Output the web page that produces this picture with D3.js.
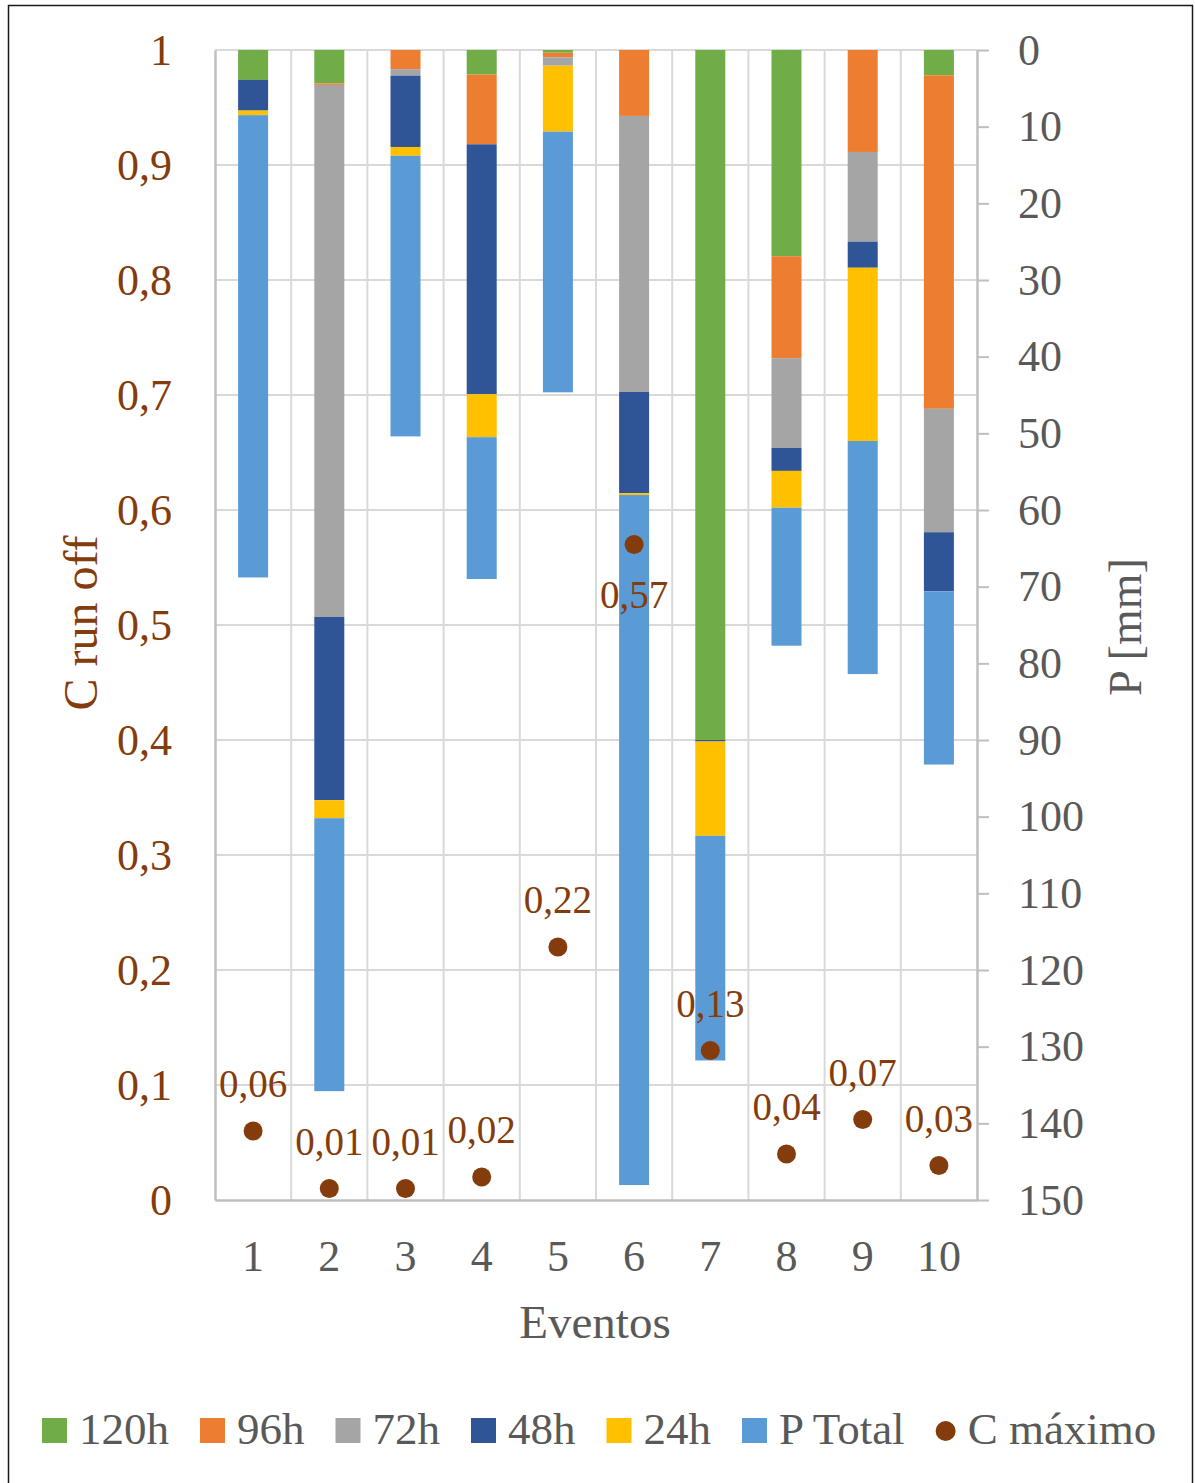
<!DOCTYPE html>
<html>
<head>
<meta charset="utf-8">
<script src="https://cdn.jsdelivr.net/npm/d3@7"></script>
<style>
    body { margin: 0; background: #fff; }
    svg text { font-family: "Liberation Serif", "DejaVu Serif", serif; }
</style>
</head>
<body>
<svg id="chart" width="1195" height="1483"></svg>
<script>
// events and precipitation (mm) per accumulation window
var events = ['1', '2', '3', '4', '5', '6', '7', '8', '9', '10'];
var p120 = [3.9, 4.35, 0, 3.2, 0.35, 0, 90.0, 26.9, 0, 3.3];
var p96 = [0, 0.2, 2.5, 9.1, 0.6, 8.6, 0, 13.3, 13.3, 43.5];
var p72 = [0, 69.4, 0.85, 0, 1.1, 36.0, 0, 11.7, 11.7, 16.1];
var p48 = [4.0, 23.9, 9.3, 32.6, 0, 13.2, 0.2, 3.0, 3.4, 7.7];
var p24 = [0.6, 2.35, 1.15, 5.6, 8.6, 0.25, 12.3, 4.8, 22.6, 0];
var pTotal = [60.3, 35.6, 36.6, 18.5, 34.0, 90.0, 29.3, 18.0, 30.4, 22.6];
var cMax = [0.06, 0.01, 0.01, 0.02, 0.22, 0.57, 0.13, 0.04, 0.07, 0.03];

var seriesNames = ['120h', '96h', '72h', '48h', '24h', 'P Total'];
var seriesValues = [p120, p96, p72, p48, p24, pTotal];
var colors = ['#70AD47', '#ED7D31', '#A5A5A5', '#2F5597', '#FFC000', '#5B9BD5'];
var dotColor = '#843C0C';
var textGray = '#595959';
var gridColor = '#D9D9D9';
var axisColor = '#BFBFBF';

var svg = d3.select('#chart');

// plot area (window.top is read-only, so no bare "top")
var plotLeft = 215, plotRight = 977, plotTop = 50, plotBottom = 1200;

var x = d3.scaleBand().domain(events).range([plotLeft, plotRight]);
var yC = d3.scaleLinear().domain([0, 1]).range([plotBottom, plotTop]);
var yP = d3.scaleLinear().domain([0, 150]).range([plotTop, plotBottom]);

var locale = d3.formatLocale({decimal: ',', thousands: '.', grouping: [3], currency: ['', '']});

// frame
svg.append('rect')
    .attr('x', 8.5).attr('y', 5.5)
    .attr('width', 1184).attr('height', 1500)
    .attr('fill', '#fff')
    .attr('stroke', '#1a1a1a')
    .attr('stroke-width', 1.5);

// grid
var grid = svg.append('g').attr('class', 'grid');
grid.selectAll('line.h')
    .data(yC.ticks(10).filter(function(d) { return d > 0; }))
    .enter().append('line')
    .attr('class', 'h')
    .attr('x1', plotLeft).attr('x2', plotRight)
    .attr('y1', function(d) { return yC(d); })
    .attr('y2', function(d) { return yC(d); })
    .attr('stroke', gridColor).attr('stroke-width', 2);

grid.selectAll('line.v')
    .data(events.slice(1))
    .enter().append('line')
    .attr('class', 'v')
    .attr('x1', function(d) { return x(d); })
    .attr('x2', function(d) { return x(d); })
    .attr('y1', plotTop).attr('y2', plotBottom)
    .attr('stroke', gridColor).attr('stroke-width', 2);

// stacked precipitation bars, hanging from the top
var rows = events.map(function(e, i) {
    var row = {event: e};
    seriesNames.forEach(function(name, k) { row[name] = seriesValues[k][i]; });
    return row;
});
var stacked = d3.stack().keys(seriesNames)(rows);
var barWidth = 30;

svg.append('g').attr('class', 'bars')
    .selectAll('g')
    .data(stacked)
    .enter().append('g')
    .attr('fill', function(d, i) { return colors[i]; })
    .selectAll('rect')
    .data(function(d) { return d; })
    .enter().append('rect')
    .attr('x', function(d) { return x(d.data.event) + x.bandwidth() / 2 - barWidth / 2; })
    .attr('y', function(d) { return yP(d[0]); })
    .attr('width', barWidth)
    .attr('height', function(d) { return Math.max(0, yP(d[1]) - yP(d[0])); });

// axes
var leftAxis = svg.append('g')
    .attr('transform', 'translate(' + plotLeft + ',0)')
    .call(d3.axisLeft(yC).ticks(10).tickSize(0).tickPadding(43).tickFormat(locale.format('.1~f')));
leftAxis.select('.domain').attr('stroke', axisColor).attr('stroke-width', 2.5);
leftAxis.selectAll('text').attr('font-size', 44).attr('fill', dotColor)
    .attr('font-family', '"Liberation Serif", serif');

var rightAxis = svg.append('g')
    .attr('transform', 'translate(' + plotRight + ',0)')
    .call(d3.axisRight(yP).ticks(15).tickSizeInner(12).tickSizeOuter(0).tickPadding(29));
rightAxis.select('.domain').attr('stroke', axisColor).attr('stroke-width', 2.5);
rightAxis.selectAll('.tick line').attr('stroke', axisColor).attr('stroke-width', 2);
rightAxis.selectAll('text').attr('font-size', 44).attr('fill', textGray)
    .attr('font-family', '"Liberation Serif", serif');

var bottomAxis = svg.append('g')
    .attr('transform', 'translate(0,' + plotBottom + ')')
    .call(d3.axisBottom(x).tickSize(0).tickPadding(40));
bottomAxis.select('.domain').attr('stroke', axisColor).attr('stroke-width', 2.5);
bottomAxis.selectAll('text').attr('font-size', 44).attr('fill', textGray)
    .attr('font-family', '"Liberation Serif", serif');

// C máximo points and labels
var labelsBelow = ['6'];
var dots = svg.append('g').attr('class', 'dots');
dots.selectAll('circle')
    .data(cMax)
    .enter().append('circle')
    .attr('cx', function(d, i) { return x(events[i]) + x.bandwidth() / 2; })
    .attr('cy', function(d) { return yC(d); })
    .attr('r', 9.5)
    .attr('fill', dotColor);

dots.selectAll('text')
    .data(cMax)
    .enter().append('text')
    .attr('x', function(d, i) { return x(events[i]) + x.bandwidth() / 2; })
    .attr('y', function(d, i) {
        return labelsBelow.indexOf(events[i]) >= 0 ? yC(d) + 63 : yC(d) - 34;
    })
    .attr('text-anchor', 'middle')
    .attr('font-size', 39)
    .attr('fill', dotColor)
    .text(function(d) { return locale.format('.2f')(d); });

// axis titles
svg.append('text')
    .attr('transform', 'translate(97,623) rotate(-90)')
    .attr('text-anchor', 'middle')
    .attr('font-size', 48)
    .attr('fill', dotColor)
    .text('C run off');

svg.append('text')
    .attr('transform', 'translate(1141,627) rotate(-90)')
    .attr('text-anchor', 'middle')
    .attr('font-size', 46)
    .attr('fill', textGray)
    .text('P [mm]');

svg.append('text')
    .attr('x', 595).attr('y', 1338)
    .attr('text-anchor', 'middle')
    .attr('font-size', 47)
    .attr('fill', textGray)
    .text('Eventos');

// legend
var legendItems = seriesNames.map(function(name, i) {
    return {name: name, color: colors[i], dot: false};
}).concat([{name: 'C máximo', color: dotColor, dot: true}]);

var legend = svg.append('g').attr('class', 'legend');
var legendX = 42, legendY = 1431;
legendItems.forEach(function(item) {
    var g = legend.append('g');
    if (item.dot) {
        g.append('circle')
            .attr('cx', legendX + 10).attr('cy', legendY)
            .attr('r', 10).attr('fill', item.color);
    } else {
        g.append('rect')
            .attr('x', legendX).attr('y', legendY - 13)
            .attr('width', 25).attr('height', 25)
            .attr('fill', item.color);
    }
    var markW = item.dot ? 20 : 25;
    var t = g.append('text')
        .attr('x', legendX + markW + 12)
        .attr('y', legendY + 13)
        .attr('font-size', 45)
        .attr('fill', textGray)
        .text(item.name);
    legendX += markW + 12 + t.node().getComputedTextLength() + 31;
});
</script>
</body>
</html>
